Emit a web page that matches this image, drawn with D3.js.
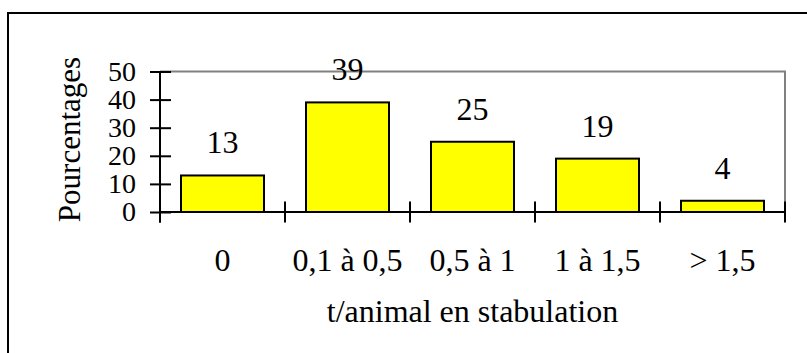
<!DOCTYPE html>
<html><head><meta charset="utf-8">
<script src="https://cdn.jsdelivr.net/npm/d3@7"></script>
<style>body{margin:0;background:#fff}svg{display:block}
text{font-family:"Liberation Serif","Times New Roman",Tinos,"DejaVu Serif","Noto Serif",serif}</style>
</head><body>
<svg id="c" width="807" height="353"></svg>
<script>
const categories = ["0", "0,1 à 0,5", "0,5 à 1", "1 à 1,5", "> 1,5"];
const values = [13, 39, 25, 19, 4];
const yTicks = [0, 10, 20, 30, 40, 50];
const yTitle = "Pourcentages";
const xTitle = "t/animal en stabulation";

const svg = d3.select("#c");
const font = '"Liberation Serif","Times New Roman",Tinos,"DejaVu Serif","Noto Serif",serif';
const L = 160, R = 785, T = 71.5, B = 212;

// outer border (right & bottom out of frame)
svg.append("rect").attr("x", 8).attr("y", 13).attr("width", 830).attr("height", 380)
  .attr("fill", "none").attr("stroke", "#000").attr("stroke-width", 2);

const x = d3.scaleBand().domain(categories).range([L, R]).paddingInner(0.336).paddingOuter(0.168);
const xb = d3.scaleBand().domain(categories).range([L, R]).padding(0);
const y = d3.scaleLinear().domain([0, 50]).range([B, T]);

// plot frame top/right grey
svg.append("path")
  .attr("d", `M${L},${y(50)}H${R}V${B}`)
  .attr("fill", "none").attr("stroke", "#808080").attr("stroke-width", 2);

// bars
svg.selectAll("rect.bar").data(values).join("rect").attr("class", "bar")
  .attr("x", (d, i) => x(categories[i]))
  .attr("width", x.bandwidth())
  .attr("y", d => y(d))
  .attr("height", d => y(0) - y(d))
  .attr("fill", "#ffff00").attr("stroke", "#000").attr("stroke-width", 2);

// y axis
const ya = svg.append("g").attr("transform", `translate(${L},0)`)
  .call(d3.axisLeft(y).tickValues(yTicks).tickSize(10).tickSizeOuter(0));
ya.attr("font-family", null).attr("font-size", null);
ya.select(".domain").remove();
ya.selectAll(".tick line").attr("x1", 11).attr("stroke", "#000").attr("stroke-width", 2);
ya.selectAll(".tick text").attr("x", -24).attr("dy", "0.32em")
  .attr("font-family", font).attr("font-size", 28).attr("fill", "#000");
svg.append("line").attr("x1", L).attr("x2", L).attr("y1", y(50)).attr("y2", B + 10.5)
  .attr("stroke", "#000").attr("stroke-width", 2);

// x axis
const xa = svg.append("g").attr("transform", `translate(0,${B})`);
xa.append("line").attr("x1", L).attr("x2", R).attr("stroke", "#000").attr("stroke-width", 2);
const edges = categories.map(c => xb(c)).concat([R]);
xa.selectAll("line.tk").data(edges).join("line").attr("class", "tk")
  .attr("x1", d => d).attr("x2", d => d).attr("y1", -10.5).attr("y2", 10.5)
  .attr("stroke", "#000").attr("stroke-width", 2);
xa.selectAll("text").data(categories).join("text")
  .attr("x", d => xb(d) + xb.bandwidth() / 2).attr("y", 271 - B)
  .attr("text-anchor", "middle").attr("font-family", font).attr("font-size", 32)
  .text(d => d);

// value labels
svg.selectAll("text.val").data(values).join("text").attr("class", "val")
  .attr("x", (d, i) => xb(categories[i]) + xb.bandwidth() / 2)
  .attr("y", d => y(d) - 22)
  .attr("text-anchor", "middle").attr("font-family", font).attr("font-size", 32)
  .text(d => d);

// titles
svg.append("text").attr("x", (L + R) / 2).attr("y", 322).attr("text-anchor", "middle")
  .attr("font-family", font).attr("font-size", 32).text(xTitle);
svg.append("text").attr("transform", `translate(80,${(57 + 222) / 2}) rotate(-90)`)
  .attr("text-anchor", "middle").attr("font-family", font).attr("font-size", 31).text(yTitle);
</script>
</body></html>
